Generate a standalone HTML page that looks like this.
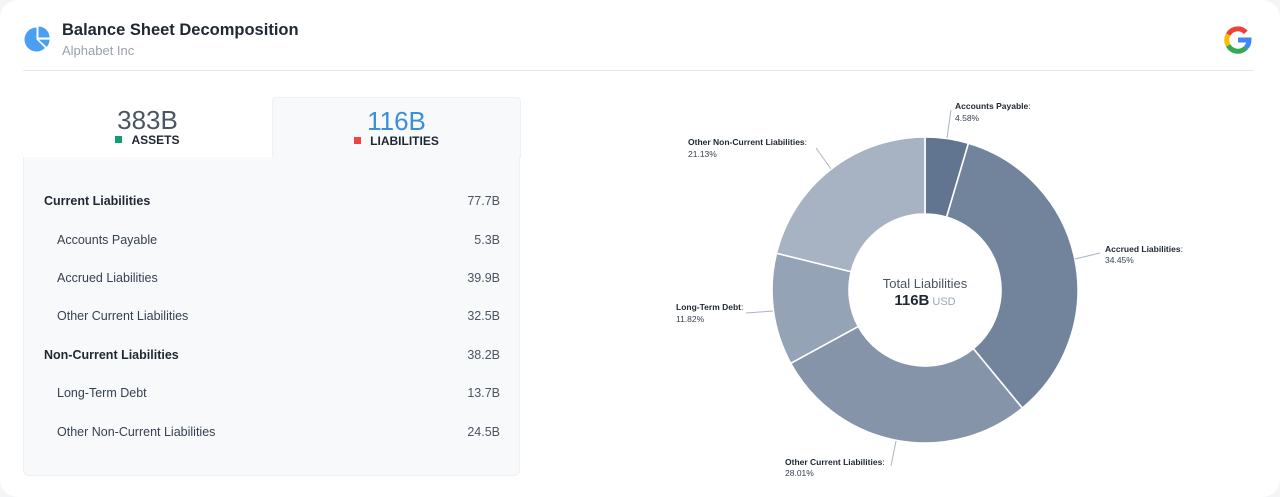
<!DOCTYPE html>
<html>
<head>
<meta charset="utf-8">
<style>
  html,body{margin:0;padding:0;}
  body{width:1280px;height:497px;background:#f4f5f7;font-family:"Liberation Sans",sans-serif;position:relative;overflow:hidden;}
  .card{position:absolute;left:0;top:0;width:1280px;height:497px;background:#fff;border-radius:18px;}
  .abs{position:absolute;}
  .title{left:62px;top:21px;font-size:16.5px;font-weight:bold;color:#1f2733;white-space:nowrap;}
  .sub{left:62px;top:43px;font-size:13px;color:#9aa1ab;white-space:nowrap;}
  .hline{left:23px;top:70px;width:1231px;height:1px;background:#e6e8eb;}
  .tabL{left:23px;top:97px;width:249px;height:60px;background:#fff;}
  .tabR{left:272px;top:97px;width:247px;height:60px;background:#f8f9fb;border:1px solid #eef0f3;border-bottom:none;border-radius:4px 4px 0 0;}
  .num{width:100%;text-align:center;top:8px;font-size:26px;line-height:30px;}
  .lab{width:100%;text-align:center;top:36px;font-size:12px;font-weight:bold;color:#1f2733;line-height:14px;}
  .sq{display:inline-block;width:7px;height:7px;margin-right:9px;vertical-align:1px;}
  .panel{left:23px;top:157px;width:495px;height:318px;background:#f8f9fb;border:1px solid #eef0f3;border-top:none;border-radius:0 0 6px 6px;}
  .row{position:absolute;left:0;width:476px;height:20px;font-size:12.5px;line-height:20px;}
  .row .n{position:absolute;left:20px;color:#374151;}
  .row.h .n{font-weight:bold;color:#1f2733;}
  .row.c .n{left:33px;}
  .row .v{position:absolute;right:0;color:#4b5563;}
</style>
</head>
<body>
<div class="card">
  <!-- icon -->
  <svg class="abs" style="left:23px;top:25px" width="28" height="28" viewBox="0 0 28 28">
    <path d="M13.5 14.5 L21.99 22.99 A12 12 0 1 1 13.5 2.5 Z" fill="#4a9ff5"/>
    <path d="M15.5 12.5 L15.5 1.5 A11 11 0 0 1 26.5 12.5 Z" fill="#4a9ff5"/>
    <path d="M15.8 14.6 L26.6 14.6 A11 11 0 0 1 23.6 21.9 Z" fill="#4a9ff5"/>
  </svg>
  <div class="abs title">Balance Sheet Decomposition</div>
  <div class="abs sub">Alphabet Inc</div>
  <!-- google G -->
  <svg class="abs" style="left:1223px;top:25px" width="30" height="30" viewBox="0 0 30 30">
    <g fill="none" stroke-width="5">
      <path d="M22.8 7.3 A11 11 0 0 0 5.2 9.5" stroke="#ea4335"/>
      <path d="M5.2 9.5 A11 11 0 0 0 5.2 20.5" stroke="#fbbc05"/>
      <path d="M5.2 20.5 A11 11 0 0 0 22.6 23" stroke="#34a853"/>
      <path d="M22.6 23 A11 11 0 0 0 26 15 L15 15" stroke="#4285f4"/>
    </g>
  </svg>
  <div class="abs hline"></div>

  <div class="abs tabL">
    <div class="abs num" style="color:#4b5563">383B</div>
    <div class="abs lab"><span class="sq" style="background:#0f9d78"></span>ASSETS</div>
  </div>
  <div class="abs tabR">
    <div class="abs num" style="color:#3b8fd9">116B</div>
    <div class="abs lab"><span class="sq" style="background:#ef4444"></span>LIABILITIES</div>
  </div>

  <div class="abs panel">
    <div class="row h" style="top:34px"><span class="n">Current Liabilities</span><span class="v">77.7B</span></div>
    <div class="row c" style="top:73px"><span class="n">Accounts Payable</span><span class="v">5.3B</span></div>
    <div class="row c" style="top:111px"><span class="n">Accrued Liabilities</span><span class="v">39.9B</span></div>
    <div class="row c" style="top:149px"><span class="n">Other Current Liabilities</span><span class="v">32.5B</span></div>
    <div class="row h" style="top:188px"><span class="n">Non-Current Liabilities</span><span class="v">38.2B</span></div>
    <div class="row c" style="top:226px"><span class="n">Long-Term Debt</span><span class="v">13.7B</span></div>
    <div class="row c" style="top:265px"><span class="n">Other Non-Current Liabilities</span><span class="v">24.5B</span></div>
  </div>

  <svg class="abs" style="left:0;top:0" width="1280" height="497" viewBox="0 0 1280 497">
    <g stroke="#fff" stroke-width="1.6" stroke-linejoin="round">
      <path d="M925 137 A153 153 0 0 1 968.42 143.29 L946.57 217.12 A76 76 0 0 0 925 214 Z" fill="#627590"/>
      <path d="M968.42 143.29 A153 153 0 0 1 1022.31 408.07 L973.34 348.65 A76 76 0 0 0 946.57 217.12 Z" fill="#72849b"/>
      <path d="M1022.31 408.07 A153 153 0 0 1 790.73 363.36 L858.30 326.44 A76 76 0 0 0 973.34 348.65 Z" fill="#8594a9"/>
      <path d="M790.73 363.36 A153 153 0 0 1 776.48 253.25 L851.23 271.74 A76 76 0 0 0 858.30 326.44 Z" fill="#95a3b6"/>
      <path d="M776.48 253.25 A153 153 0 0 1 925 137 L925 214 A76 76 0 0 0 851.23 271.74 Z" fill="#a7b3c2"/>
    </g>
    <g stroke="#a9b4c3" stroke-width="1" fill="none">
      <path d="M947 138 L951 110"/>
      <path d="M1075 259 L1100 253"/>
      <path d="M896 441 L891 466"/>
      <path d="M773 311 L746 313"/>
      <path d="M831 169 L816 148"/>
    </g>
    <g font-family="Liberation Sans, sans-serif" font-size="8.5" fill="#1f2733">
      <text x="955" y="109" font-weight="bold">Accounts Payable<tspan font-weight="normal">:</tspan></text>
      <text x="955" y="121" fill="#374151">4.58%</text>
      <text x="1105" y="252" font-weight="bold">Accrued Liabilities<tspan font-weight="normal">:</tspan></text>
      <text x="1105" y="263" fill="#374151">34.45%</text>
      <text x="785" y="465" font-weight="bold">Other Current Liabilities<tspan font-weight="normal">:</tspan></text>
      <text x="785" y="476" fill="#374151">28.01%</text>
      <text x="676" y="310" font-weight="bold">Long-Term Debt<tspan font-weight="normal">:</tspan></text>
      <text x="676" y="322" fill="#374151">11.82%</text>
      <text x="688" y="145" font-weight="bold">Other Non-Current Liabilities<tspan font-weight="normal">:</tspan></text>
      <text x="688" y="157" fill="#374151">21.13%</text>
    </g>
    <text x="925" y="288" text-anchor="middle" font-family="Liberation Sans, sans-serif" font-size="13" fill="#4b5563">Total Liabilities</text>
    <text x="925" y="305" text-anchor="middle" font-family="Liberation Sans, sans-serif"><tspan font-size="15" font-weight="bold" fill="#1f2733">116B</tspan><tspan font-size="11" fill="#9aa5b5" dx="3">USD</tspan></text>
  </svg>
</div>
</body>
</html>
